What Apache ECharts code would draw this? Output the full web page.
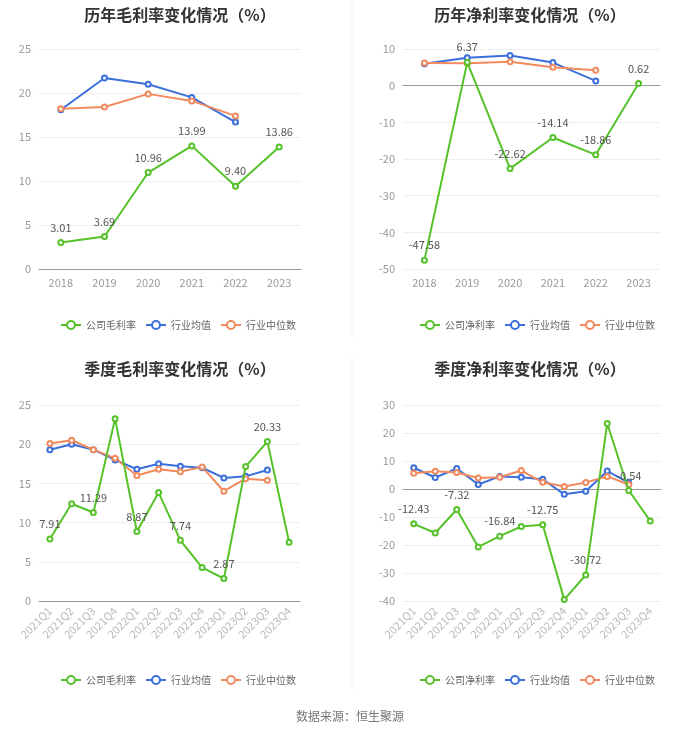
<!DOCTYPE html>
<html><head><meta charset="utf-8">
<script src="https://cdn.jsdelivr.net/npm/echarts@6/dist/echarts.min.js"></script>
<style>html,body{margin:0;padding:0;background:#fff}#c{width:700px;height:734px}</style>
</head><body><div id="c"></div>
<script>
const years = ['2018','2019','2020','2021','2022','2023'];
const quarters = ['2021Q1','2021Q2','2021Q3','2021Q4','2022Q1','2022Q2','2022Q3','2022Q4','2023Q1','2023Q2','2023Q3','2023Q4'];

const annualGross = [3.01, 3.69, 10.96, 13.99, 9.40, 13.86];
const annualGrossAvg = [18.1, 21.7, 21.0, 19.5, 16.7];
const annualGrossMed = [18.2, 18.4, 19.9, 19.1, 17.4];

const annualNet = [-47.58, 6.37, -22.62, -14.14, -18.86, 0.62];
const annualNetAvg = [6.0, 7.6, 8.2, 6.3, 1.3];
const annualNetMed = [6.2, 6.1, 6.5, 5.0, 4.2];

const qGross = [7.91, 12.4, 11.29, 23.26, 8.87, 13.83, 7.74, 4.26, 2.87, 17.14, 20.33, 7.49];
const qGrossAvg = [19.3, 20.0, 19.3, 18.0, 16.8, 17.5, 17.2, 17.0, 15.7, 15.9, 16.7];
const qGrossMed = [20.1, 20.5, 19.3, 18.2, 16.0, 16.8, 16.5, 17.1, 14.0, 15.6, 15.4];

const qNet = [-12.43, -15.7, -7.32, -20.7, -16.84, -13.4, -12.75, -39.5, -30.72, 23.4, -0.54, -11.4];
const qNetAvg = [7.6, 4.1, 7.3, 1.6, 4.5, 4.2, 3.5, -1.9, -0.8, 6.4, 2.3];
const qNetMed = [5.6, 6.3, 5.9, 3.9, 4.2, 6.6, 2.4, 0.9, 2.3, 4.5, 1.6];

const titles = ['历年毛利率变化情况（%）','历年净利率变化情况（%）','季度毛利率变化情况（%）','季度净利率变化情况（%）'];
const legendNames = [['公司毛利率','行业均值','行业中位数'],['公司净利率','行业均值','行业中位数'],['公司毛利率','行业均值','行业中位数'],['公司净利率','行业均值','行业中位数']];

const GREEN = '#56c22a', BLUE = '#3b6fdc', ORANGE = '#f28a5e';
const FONT = '"Noto Sans CJK SC","Noto Sans",sans-serif';

const grids = [
  {left: 39, top: 49, width: 262, height: 220},
  {left: 403, top: 49, width: 257, height: 220},
  {left: 39, top: 405, width: 261, height: 196},
  {left: 403, top: 405, width: 258, height: 196}
];
const yCfg = [
  {min: 0, max: 25, interval: 5},
  {min: -50, max: 10, interval: 10},
  {min: 0, max: 25, interval: 5},
  {min: -40, max: 30, interval: 10}
];
const cats = [years, years, quarters, quarters];
const dataSets = [
  [annualGross, annualGrossAvg, annualGrossMed],
  [annualNet, annualNetAvg, annualNetMed],
  [qGross, qGrossAvg, qGrossMed],
  [qNet, qNetAvg, qNetMed]
];
const titleX = [175, 525, 175, 525];
const titleY = [2, 2, 356, 356];
const legendY = [315, 315, 670, 670];
const legendLeft = [55, 414, 55, 414];

const option = {
  animation: false,
  textStyle: {fontFamily: FONT},
  title: titles.map((t, i) => ({
    text: t, left: titleX[i], top: titleY[i], textAlign: 'center',
    textStyle: {fontSize: 16, fontWeight: 'bold', color: '#333', fontFamily: FONT}
  })),
  legend: legendNames.map((n, i) => ({
    data: n, left: legendLeft[i], top: legendY[i], itemWidth: 20, itemHeight: 10, itemGap: 9,
    textStyle: {fontSize: 10, color: '#666', fontFamily: FONT, padding: [0, 0, 0, 0]}
  })),
  grid: grids,
  xAxis: cats.map((c, i) => ({
    type: 'category', gridIndex: i, data: c, boundaryGap: true,
    axisLine: {onZero: true, lineStyle: {color: '#999'}},
    axisTick: {alignWithLabel: true, lineStyle: {color: '#999'}},
    axisLabel: i < 2 ? {color: '#999', fontSize: 11, margin: 8} : {color: '#bbb', fontSize: 11, rotate: 45, margin: 8, interval: 0}
  })),
  yAxis: yCfg.map((y, i) => ({
    type: 'value', gridIndex: i, min: y.min, max: y.max, interval: y.interval,
    axisLine: {show: false}, axisTick: {show: false},
    axisLabel: {color: '#999', fontSize: 11},
    splitLine: {lineStyle: {color: '#eee'}}
  })),
  series: [],
  graphic: [
    {type: 'line', shape: {x1: 352, y1: 0, x2: 352, y2: 338}, style: {stroke: '#f2f2f2', lineWidth: 1}},
    {type: 'line', shape: {x1: 352, y1: 356, x2: 352, y2: 690}, style: {stroke: '#f2f2f2', lineWidth: 1}},
    {type: 'text', left: 'center', top: 710, style: {text: '数据来源：恒生聚源', fill: '#777', fontSize: 12, fontFamily: FONT}}
  ]
};

const colors = [GREEN, BLUE, ORANGE];
dataSets.forEach((ds, i) => {
  ds.forEach((d, k) => {
    const s = {
      type: 'line', name: legendNames[i][k], xAxisIndex: i, yAxisIndex: i, data: d,
      symbol: 'emptyCircle', symbolSize: 5, z: k === 0 ? 3 : 2,
      lineStyle: {width: 2, color: colors[k]}, itemStyle: {color: colors[k]}
    };
    if (k === 0) {
      s.label = {
        show: true, position: 'top', color: '#555', fontSize: 11, distance: 6,
        formatter: p => (i < 2 || p.dataIndex % 2 === 0) ? p.value.toFixed(2) : ''
      };
    }
    option.series.push(s);
  });
});

echarts.init(document.getElementById('c')).setOption(option);
</script></body></html>
